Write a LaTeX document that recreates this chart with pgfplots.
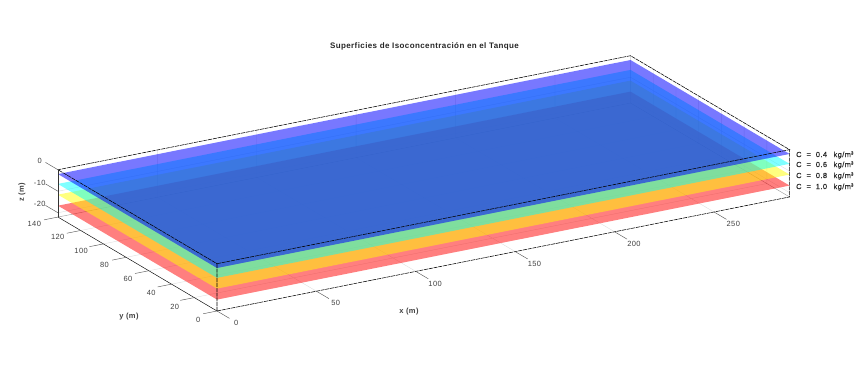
\documentclass[border=0pt]{standalone}
\usepackage{pgfplots}
\pgfplotsset{compat=1.18}
\usepackage{fontspec}
\setmainfont{Liberation Sans}
\newfontfamily\lbl[LetterSpace=5]{Liberation Sans}
\newfontfamily\lgd[LetterSpace=6,FakeBold=0.3]{Liberation Sans}
\definecolor{tk}{rgb}{0.25,0.25,0.25}
\definecolor{cR}{rgb}{1,0,0}
\definecolor{cY}{rgb}{1,1,0}
\definecolor{cC}{rgb}{0,1,1}
\definecolor{cB}{rgb}{0,0,1}
\tikzset{tl/.style={font=\lbl\fontsize{7.5}{9}\selectfont,text=tk,inner sep=0pt}}
\begin{document}
\begin{tikzpicture}[x=1pt,y=1pt]
\useasboundingbox (0,0) rectangle (867,367);
\begin{axis}[
  at={(217pt,103.3pt)}, anchor=origin,
  x={(1.988pt,0.396pt)}, y={(-1.136pt,0.671pt)}, z={(0pt,2.15pt)},
  xmin=0,xmax=288,ymin=0,ymax=140,zmin=-22,zmax=0,
  hide axis, clip=false, unbounded coords=jump,
]
% faint grid on the back walls and floor
\addplot3[black,opacity=0.13,line width=0.4pt,mark=none] coordinates {
(50,140,-22)(50,140,0)(nan,nan,nan)(100,140,-22)(100,140,0)(nan,nan,nan)(150,140,-22)(150,140,0)(nan,nan,nan)(200,140,-22)(200,140,0)(nan,nan,nan)(250,140,-22)(250,140,0)(nan,nan,nan)
(288,20,-22)(288,20,0)(nan,nan,nan)(288,40,-22)(288,40,0)(nan,nan,nan)(288,60,-22)(288,60,0)(nan,nan,nan)(288,80,-22)(288,80,0)(nan,nan,nan)(288,100,-22)(288,100,0)(nan,nan,nan)(288,120,-22)(288,120,0)(nan,nan,nan)
(0,140,-10)(288,140,-10)(288,0,-10)(nan,nan,nan)(0,140,-20)(288,140,-20)(288,0,-20)(nan,nan,nan)
(50,0,-22)(50,140,-22)(nan,nan,nan)(100,0,-22)(100,140,-22)(nan,nan,nan)(150,0,-22)(150,140,-22)(nan,nan,nan)(200,0,-22)(200,140,-22)(nan,nan,nan)(250,0,-22)(250,140,-22)(nan,nan,nan)
(0,20,-22)(288,20,-22)(nan,nan,nan)(0,40,-22)(288,40,-22)(nan,nan,nan)(0,60,-22)(288,60,-22)(nan,nan,nan)(0,80,-22)(288,80,-22)(nan,nan,nan)(0,100,-22)(288,100,-22)(nan,nan,nan)(0,120,-22)(288,120,-22)
};
% hidden box edges
\addplot3[black,opacity=0.4,line width=0.4pt,mark=none] coordinates {(0,140,-22)(288,140,-22)(288,0,-22)(nan,nan,nan)(288,140,-22)(288,140,0)};
% isoconcentration surfaces
\addplot3[fill=cR,fill opacity=0.5,draw=none] coordinates {(0,0,-16.7)(288,0,-16.7)(288,140,-16.7)(0,140,-16.7)} -- cycle;
\addplot3[fill=cY,fill opacity=0.5,draw=none] coordinates {(0,0,-11.6)(288,0,-11.6)(288,140,-11.6)(0,140,-11.6)} -- cycle;
\addplot3[fill=cC,fill opacity=0.5,draw=none] coordinates {(0,0,-6.6)(288,0,-6.6)(288,140,-6.6)(0,140,-6.6)} -- cycle;
\addplot3[fill=cB,fill opacity=0.53,draw=none] coordinates {(0,0,-2)(288,0,-2)(288,140,-2)(0,140,-2)} -- cycle;
% box edges
\addplot3[black,line width=0.55pt,mark=none,dash pattern=on 4pt off 0.8pt] coordinates {
(0,0,0)(288,0,0)(288,140,0)(0,140,0)(0,0,0)(nan,nan,nan)
(0,0,-22)(288,0,-22)(288,0,0)(nan,nan,nan)
(0,0,-22)(0,0,0)};
\addplot3[black,line width=0.45pt,mark=none] coordinates {(0,0,-22)(0,140,-22)};
\addplot3[black!80,line width=0.9pt,mark=none] coordinates {(0,140,-22)(0,140,0)};
% ticks
\addplot3[black!65,line width=0.45pt,mark=none] coordinates {
(0,0,-22)(0,-11,-22)(nan,nan,nan)(50,0,-22)(50,-11,-22)(nan,nan,nan)(100,0,-22)(100,-11,-22)(nan,nan,nan)(150,0,-22)(150,-11,-22)(nan,nan,nan)(200,0,-22)(200,-11,-22)(nan,nan,nan)(250,0,-22)(250,-11,-22)(nan,nan,nan)
(0,0,-22)(-7,0,-22)(nan,nan,nan)(0,20,-22)(-7,20,-22)(nan,nan,nan)(0,40,-22)(-7,40,-22)(nan,nan,nan)(0,60,-22)(-7,60,-22)(nan,nan,nan)(0,80,-22)(-7,80,-22)(nan,nan,nan)(0,100,-22)(-7,100,-22)(nan,nan,nan)(0,120,-22)(-7,120,-22)(nan,nan,nan)(0,140,-22)(-7,140,-22)(nan,nan,nan)
(0,140,0)(0,151,0)(nan,nan,nan)(0,140,-10)(0,151,-10)(nan,nan,nan)(0,140,-20)(0,151,-20)
};
% tick labels
\node[tl] at (axis cs:0,-17,-22.3) {0};
\node[tl] at (axis cs:50,-17,-22.3) {50};
\node[tl] at (axis cs:100,-17,-22.3) {100};
\node[tl] at (axis cs:150,-17,-22.3) {150};
\node[tl] at (axis cs:200,-17,-22.3) {200};
\node[tl] at (axis cs:250,-17,-22.3) {250};
\node[tl] at (axis cs:-9.5,0,-24.6) {0};
\node[tl] at (axis cs:-9.5,20.6,-24.6) {20};
\node[tl] at (axis cs:-9.5,41.2,-24.6) {40};
\node[tl] at (axis cs:-9.5,61.8,-24.6) {60};
\node[tl] at (axis cs:-9.5,82.4,-24.6) {80};
\node[tl] at (axis cs:-9.5,103,-24.6) {100};
\node[tl] at (axis cs:-9.5,123.6,-24.6) {120};
\node[tl] at (axis cs:-9.5,144.2,-24.6) {140};
\node[tl] at (axis cs:0,156,-1) {0};
\node[tl] at (axis cs:0,156,-11) {-10};
\node[tl] at (axis cs:0,156,-21) {-20};
\end{axis}
\node[font=\lbl\bfseries\fontsize{8}{10}\selectfont,text=black!85] at (424.5,321) {Superficies de Isoconcentración en el Tanque};
\foreach \v/\yy in {0.4/212,0.6/202,0.8/191,1.0/180}{
  \node[anchor=west,inner sep=0pt,font=\lgd\fontsize{7.4}{8}\selectfont,text=black!85] at (796,\yy) {C\hspace{5pt}=\hspace{5pt}\v\hspace{6.5pt}kg/m\raisebox{2.5pt}{\fontsize{4.5}{5}\selectfont 3}};
}
\node[font=\lbl\bfseries\fontsize{7.5}{9}\selectfont,text=tk] at (409,55) {x (m)};
\node[font=\lbl\bfseries\fontsize{7.5}{9}\selectfont,text=tk] at (129,50) {y (m)};
\node[font=\lbl\bfseries\fontsize{7.5}{9}\selectfont,text=tk,rotate=90] at (22,175) {z (m)};
\end{tikzpicture}
\end{document}
